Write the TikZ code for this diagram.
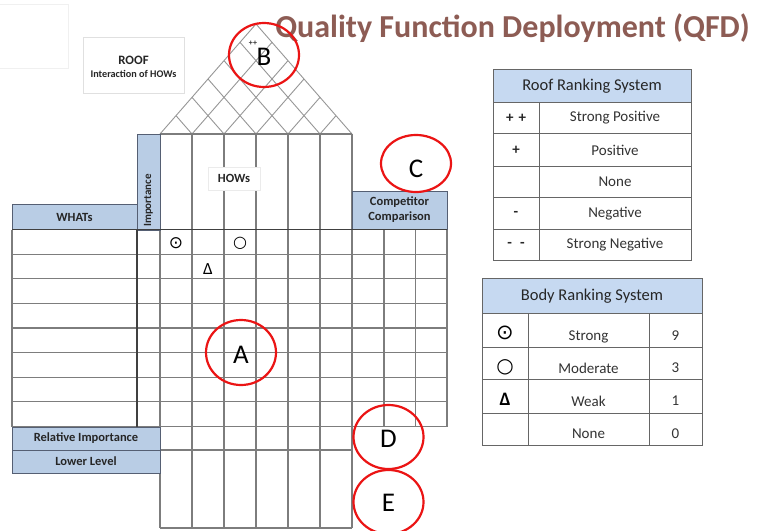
\documentclass[tikz,border=0pt]{standalone}
\usepackage{fontspec}
\setmainfont{Carlito}
\newfontfamily\symfont{DejaVu Sans}
\definecolor{hdrblue}{RGB}{185,205,229}
\definecolor{tblblue}{RGB}{198,217,241}
\definecolor{bord}{RGB}{85,95,115}
\definecolor{gridg}{RGB}{125,125,125}
\definecolor{titlec}{RGB}{141,92,84}
\definecolor{markred}{RGB}{235,20,20}
\tikzset{
  bluebox/.style={draw=bord, fill=hdrblue, line width=0.9pt, inner sep=0pt, outer sep=0pt,
    anchor=north west, font=\bfseries\fontsize{12.5}{15}\selectfont, align=center, text=black!85},
  gridline/.style={draw=gridg, line width=1.1pt},
  darkline/.style={draw=black!75, line width=1.2pt},
  tbl/.style={draw=black!60, line width=0.8pt},
  tbltext/.style={font=\fontsize{15}{17}\selectfont, text=black!80},
  tblhead/.style={font=\fontsize{16.5}{18}\selectfont, text=black!85},
  tblsign/.style={font=\bfseries\fontsize{15}{17}\selectfont, text=black!85},
  lightbox/.style={draw=black!12, line width=0.8pt, inner sep=0pt, outer sep=0pt, anchor=north west},
  redmark/.style={draw=markred, line width=2.2pt},
  redletter/.style={font=\fontsize{27}{29}\selectfont, text=black},
}
\begin{document}
\begin{tikzpicture}[x=1pt,y=-1pt]
\useasboundingbox (0,0) rectangle (765,530);
\fill[white] (0,0) rectangle (765,530);

% faint box top-left
\draw[draw=black!6, line width=0.8pt] (-2,4) rectangle (68,68);

% title
\node[font=\bfseries\fontsize{32}{34}\selectfont, text=titlec, anchor=center] (title) at (512.5,28) {Quality Function Deployment (QFD)};

% ROOF box
\node[lightbox, minimum width=101pt, minimum height=56pt] (roofbox) at (83,37) {};
\node[font=\bfseries\fontsize{12.8}{14}\selectfont, text=black!85] (rooft) at (133.5,60) {ROOF};
\node[font=\bfseries\fontsize{10.2}{12}\selectfont, text=black!85] (roofs) at (133.5,74) {Interaction of HOWs};

% roof grid
\foreach \i in {0,...,6}{
  \pgfmathsetmacro{\xi}{160+32*\i}
  \pgfmathsetmacro{\xr}{(\xi+352)/2}
  \pgfmathsetmacro{\yr}{134-1.146*(352-\xi)/2}
  \pgfmathsetmacro{\xl}{(\xi+160)/2}
  \pgfmathsetmacro{\yl}{134-1.146*(\xi-160)/2}
  \draw[draw=gridg!80, line width=0.9pt] (\xi,134) -- (\xr,\yr);
  \draw[draw=gridg!80, line width=0.9pt] (\xi,134) -- (\xl,\yl);
}
\node[font=\bfseries\fontsize{8}{9}\selectfont, text=black!80] (pp) at (253,43) {++};

% HOW columns
\draw[gridline] (160,134) -- (352,134);
\foreach \i in {1,...,5}{
  \draw[gridline] (160+32*\i,134) -- (160+32*\i,528);
}
\draw[gridline] (352,134) -- (352,528);
\draw[gridline] (160,134) -- (160,528);

% HOWs label
\node[lightbox, minimum width=52pt, minimum height=23pt, fill=white, draw=black!8] (howbox) at (208,167) {};
\node[font=\bfseries\fontsize{12.5}{14}\selectfont, text=black!85] (hows) at (howbox.center) {HOWs};

% Importance header
\node[bluebox, minimum width=23pt, minimum height=96pt] (imp) at (137,134) {};
\node[rotate=90, anchor=west, font=\bfseries\fontsize{11}{12}\selectfont, text=black!85, inner sep=0pt] (impt) at (148.5,227) {Importance};

% WHATs header
\node[bluebox, minimum width=125pt, minimum height=25pt] (whats) at (12,204.5) {WHATs};

% Competitor header
\node[bluebox, minimum width=95pt, minimum height=38pt] (comp) at (352,191) {Competitor\\Comparison};

% main rows
\foreach \r in {1,...,8}{
  \draw[gridline] (12,{229.5+24.625*\r}) -- (447,{229.5+24.625*\r});
}
\draw[gridline] (12,229.5) -- (12,427);
\draw[gridline] (384,229.5) -- (384,427);
\draw[gridline] (415.5,229.5) -- (415.5,427);
\draw[gridline] (447,229.5) -- (447,427);
\draw[darkline] (137,229.5) -- (137,427);
\draw[darkline] (12,229.5) -- (447,229.5);

% relative importance / lower level
\draw[gridline] (160,450) -- (352,450);
\draw[gridline] (160,528) -- (352,528);
\node[bluebox, minimum width=148pt, minimum height=23pt] (relimp) at (12,427) {Relative Importance};
\node[bluebox, minimum width=148pt, minimum height=23pt] (lower) at (12,450) {Lower Level};

% matrix symbols
\node[font=\symfont\fontsize{17}{18}\selectfont, inner sep=0pt] (s1) at (176,243.5) {⊙};
\node[font=\symfont\fontsize{16}{17}\selectfont, inner sep=0pt] (s2) at (240,243.5) {○};
\node[font=\fontsize{17}{18}\selectfont, inner sep=0pt] (s3) at (208,269) {Δ};

% Roof ranking table
\fill[tblblue] (493,69) rectangle (691,102);
\draw[tbl] (493,69) rectangle (691,260);
\foreach \y in {102,133,166,197,229}{ \draw[tbl] (493,\y) -- (691,\y); }
\draw[tbl] (539,102) -- (539,260);
\node[tblhead] (rrs) at (592,86) {Roof Ranking System};
\node[tblsign] (r1a) at (516,118) {+\,\,+};
\node[tbltext] (r1b) at (615,118) {Strong Positive};
\node[tblsign] (r2a) at (516,150) {+};
\node[tbltext] (r2b) at (615,150) {Positive};
\node[tbltext] (r3b) at (615,182) {None};
\node[tblsign] (r4a) at (516,213.5) {-};
\node[tbltext] (r4b) at (615,213.5) {Negative};
\node[tblsign] (r5a) at (516,245) {-\;\;-};
\node[tbltext] (r5b) at (615,245) {Strong Negative};

% Body ranking table
\fill[tblblue] (482,278) rectangle (702,313);
\draw[tbl] (482,278) rectangle (702,445);
\foreach \y in {313,347,379,413}{ \draw[tbl] (482,\y) -- (702,\y); }
\draw[tbl] (528,313) -- (528,445);
\draw[tbl] (649,313) -- (649,445);
\node[tblhead] (brs) at (592,296) {Body Ranking System};
\node[font=\symfont\fontsize{21}{22}\selectfont, inner sep=0pt] (b1a) at (505,333) {⊙};
\node[tbltext] (b1b) at (588.5,337) {Strong};
\node[tbltext] (b1c) at (675.5,336) {9};
\node[font=\symfont\fontsize{20}{21}\selectfont, inner sep=0pt] (b2a) at (505,367) {○};
\node[tbltext] (b2b) at (588.5,368) {Moderate};
\node[tbltext] (b2c) at (675.5,368) {3};
\node[font=\bfseries\fontsize{19}{20}\selectfont, inner sep=0pt] (b3a) at (505,399) {Δ};
\node[tbltext] (b3b) at (588.5,401) {Weak};
\node[tbltext] (b3c) at (675.5,401) {1};
\node[tbltext] (b4b) at (588.5,434) {None};
\node[tbltext] (b4c) at (675.5,434) {0};

% red markers
\draw[redmark] (264,55) ellipse [x radius=35, y radius=32];
\node[redletter] (lB) at (264,57) {B};
\draw[redmark] (416,163.5) ellipse [x radius=35, y radius=28.5];
\node[redletter] (lC) at (416,169) {C};
\draw[redmark] (241,352.5) ellipse [x radius=35, y radius=32.5];
\node[redletter] (lA) at (241,355) {A};
\draw[redmark] (388.5,437) ellipse [x radius=35, y radius=32];
\node[redletter] (lD) at (388.5,439) {D};
\draw[redmark] (388.5,502) ellipse [x radius=35, y radius=32];
\node[redletter] (lE) at (388.5,503) {E};
\end{tikzpicture}
\end{document}
